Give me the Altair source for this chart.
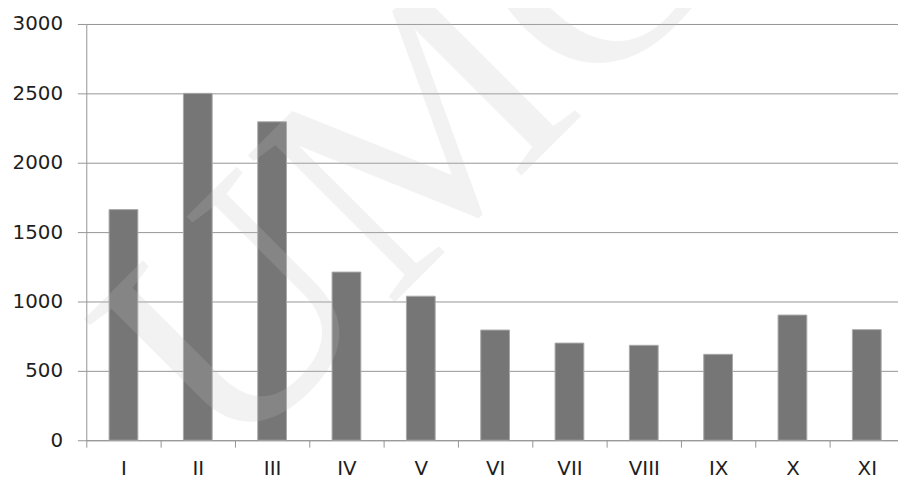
import altair as alt
import pandas as pd

categories = ["I", "II", "III", "IV", "V", "VI", "VII", "VIII", "IX", "X", "XI"]
values = [1662, 2500, 2295, 1212, 1038, 794, 700, 684, 619, 902, 797]
y_ticks = [0, 500, 1000, 1500, 2000, 2500, 3000]
watermark = ["UMC"]

df = pd.DataFrame({"cat": categories, "val": values})
wm = pd.DataFrame({"t": watermark})

GRAY = "#959595"
FONT = "DejaVu Sans"

bars = alt.Chart(df).mark_bar(
    color="#767676", stroke="#a9a9a9", strokeWidth=1,
    width=alt.RelativeBandSize(0.387),
).encode(
    x=alt.X("cat:N", sort=categories,
            scale=alt.Scale(paddingInner=0, paddingOuter=0, range=[0, 825]),
            axis=alt.Axis(title=None, labelAngle=0, tickBand="extent", tickSize=7,
                          tickColor=GRAY, domainColor=GRAY, grid=False,
                          labelFont=FONT, labelFontSize=20, labelColor="#1e1e1e",
                          labelPadding=12)),
    y=alt.Y("val:Q", scale=alt.Scale(domain=[0, 3000], nice=False),
            axis=alt.Axis(title=None, values=y_ticks, format="d", tickSize=9,
                          tickColor=GRAY, domainColor=GRAY, grid=True, gridColor=GRAY,
                          labelFont=FONT, labelFontSize=20, labelColor="#1e1e1e",
                          labelPadding=15)),
)

mark = alt.Chart(wm).mark_text(
    font="Liberation Serif", fontSize=320, angle=315, align="center",
    baseline="alphabetic", color="#c0c0c0", opacity=0.2,
).encode(text="t:N", x=alt.value(399), y=alt.value(193))

chart = alt.layer(bars, mark).properties(
    width=819, height=420,
    autosize=alt.AutoSizeParams(type="none"),
    padding={"left": 79, "top": 14, "right": 0, "bottom": 37},
    background="white",
).configure_view(stroke=None)

chart.save("out.html", embed_options={"renderer": "svg", "actions": False})
